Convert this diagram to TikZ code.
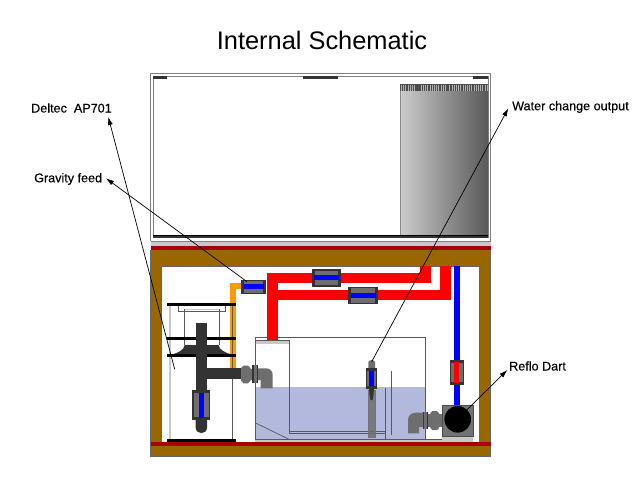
\documentclass[tikz,border=0pt]{standalone}
\usepackage{fontspec}
\setmainfont{Liberation Sans}
\usetikzlibrary{arrows.meta}
\definecolor{wood}{HTML}{996600}
\definecolor{darkred}{HTML}{A80000}
\definecolor{ltgray}{HTML}{C8C8C8}
\definecolor{midline}{HTML}{808080}
\definecolor{dkgray}{HTML}{333333}
\definecolor{vgray}{HTML}{6E6E6E}
\definecolor{water}{HTML}{B3B9DD}
\definecolor{pipeorange}{HTML}{FF9900}
\tikzset{
  x=1pt,y=-1pt,
  thinline/.style={draw=black!65,line width=.7pt},
  darkpart/.style={fill=dkgray,draw=none},
  blackbar/.style={fill=black,draw=none},
  vbody/.style={fill=vgray,draw=none},
  label/.style={font=\fontsize{12.6}{14}\selectfont\addfontfeatures{FakeBold=0.25},inner sep=0pt,text=black},
  callout/.style={draw=black,line width=.7pt,-{Latex[length=8pt,width=5pt]}},
}
% horizontal valve: x1,y1,x2,y2, colour
\newcommand{\hvalve}[5]{%
  \fill[darkpart] (#1,#2) rectangle (#3,#4);
  \fill[vbody] (#1+3,#2+1.5) rectangle (#3-3,#4-1.5);
  \fill[fill=#5] (#1+2.5,{(#2+#4)/2-2.5}) rectangle (#3-2.5,{(#2+#4)/2+2.5});}
% vertical valve
\newcommand{\vvalve}[5]{%
  \fill[darkpart] (#1,#2) rectangle (#3,#4);
  \fill[vbody] (#1+1.5,#2+3) rectangle (#3-1.5,#4-3);
  \fill[fill=#5] ({(#1+#3)/2-2.4},#2+2.5) rectangle ({(#1+#3)/2+2.4},#4-2.5);}
\begin{document}
\begin{tikzpicture}
\useasboundingbox (0,0) rectangle (640,480);
\fill[white] (0,0) rectangle (640,480);
% --- display tank
\draw[midline,line width=1pt] (150.5,241) -- (150.5,73.8) -- (490.5,73.8) -- (490.5,241);
\draw[midline,line width=1pt] (153,238) -- (153,76.5) -- (488,76.5) -- (488,238);
\fill[darkpart] (153,76) rectangle (167,79);
\fill[darkpart] (303,76) rectangle (338,79);
\fill[darkpart] (473,76) rectangle (488,79);
% overflow
\fill[left color=black!20,right color=black!65] (400,84) rectangle (488,235);
\draw[black!45,line width=.8pt] (400,84) -- (400,235);
\fill[black!70] (400,84) rectangle (488,91);
\foreach \cx in {401,403.2,...,487}{\fill[black!30] (\cx,84.5) rectangle ++(.7,6.5);}
\fill[black!70] (416,84) rectangle (420,91);
\fill[black!70] (446,84) rectangle (449,91);
\fill[darkpart] (153,235) rectangle (488,238);
\draw[line width=.5pt,black] (153,235) -- (488,235);
% --- stand
\fill[ltgray] (150.5,241) rectangle (490.5,246);
\draw[midline,line width=.6pt] (150.5,241) -- (490.5,241);
\fill[darkred] (150.5,246) rectangle (490.5,250);
\fill[wood] (150.5,250) rectangle (490.5,266);
\draw[black!60,line width=.5pt] (150.5,266) -- (490.5,266);
\fill[wood] (150.5,266) rectangle (161.7,442);
\fill[wood] (479,266) rectangle (490.5,442);
\draw[black!60,line width=.5pt] (161.7,266) -- (161.7,442) (479,266) -- (479,442) (150.5,250) -- (150.5,456.5) -- (490.5,456.5) -- (490.5,250);
\fill[darkred] (150.5,442) rectangle (490.5,445.5);
\fill[wood] (150.5,445.5) rectangle (490.5,456.5);
\draw[black!60,line width=.5pt] (150.5,445.5) -- (150.5,456.5) -- (490.5,456.5) -- (490.5,445.5);
% --- sump
\fill[water] (255,387) rectangle (425.7,439.7);
\fill[ltgray] (255.3,341) rectangle (289.3,343.7);
\draw[thinline] (255,439.7) -- (255,337.3) -- (425.7,337.3) -- (425.7,439.7);
\draw[thinline] (255,340) -- (289.7,340) -- (289.7,433.3) -- (385.7,433.3);
\draw[thinline] (289.7,431) -- (385.7,431);
\draw[thinline] (385.7,388.3) -- (385.7,439.7);
\draw[thinline] (391.7,371) -- (391.7,435);
\draw[thinline] (255,422.7) -- (289,439.3);
\fill[ltgray] (255,439.7) rectangle (473,442);
\draw[thinline] (255,439.7) -- (473,439.7);
% --- orange gravity pipe
\fill[pipeorange] (229.7,283.3) rectangle (241,289);
\fill[pipeorange] (229.7,283.3) rectangle (235.7,368.5);
% --- red pipes
\fill[red] (266.7,272.5) rectangle (277.5,340);
\fill[red] (266.7,272.5) rectangle (431,283);
\fill[red] (420,266) rectangle (431,283);
\fill[red] (266.7,289.7) rectangle (450.7,300);
\fill[red] (440,266) rectangle (450.7,300);
% --- blue pipe
\fill[blue] (454,266) rectangle (459.7,406);
% --- valves on pipes
\hvalve{241}{279.5}{266}{294}{blue}
\hvalve{311.7}{269}{341}{286.7}{blue}
\hvalve{348}{286.7}{378}{304}{blue}
\vvalve{449.7}{359.7}{464}{385.3}{red}
% --- skimmer
\fill[ltgray] (169,306) rectangle (171,440);
\draw[thinline] (232.3,306) -- (232.3,440);
\draw[thinline] (178.3,306) -- (178.3,311.7) -- (225,311.7) -- (225,306);
\draw[ltgray,line width=.8pt] (184.7,309) -- (219,309);
\draw[thinline] (184.7,309) -- (184.7,345) (219,309) -- (219,345);
\fill[darkpart] (170,355) .. controls (178,353) and (184,350) .. (184.7,345) -- (218.5,345) .. controls (219,350) and (226,353) .. (233,355) -- cycle;
\fill[blackbar] (167,303.2) rectangle (235.7,306.3);
\fill[blackbar] (167,336.9) rectangle (235.7,340.1);
\fill[blackbar] (167,354.2) rectangle (235.7,357.2);
\fill[blackbar] (167,439.2) rectangle (235.7,442);
\fill[darkpart] (195.7,323) rectangle (207,395);
\fill[darkpart] (195.7,415) -- (207,415) -- (207,427.5) .. controls (207,435) and (195.7,435) .. (195.7,427.5) -- cycle;
\vvalve{192.3}{390}{210}{420}{blue}
% --- left fitting
\fill[darkpart] (206.7,368.3) rectangle (241.7,379.3);
\fill[vgray] (241,368) -- (243.5,365.7) -- (248,365.7) -- (250.5,368) -- (250.5,380.5) -- (248,383.3) -- (243.5,383.3) -- (241,380.5) -- cycle;
\fill[vgray] (250,369) rectangle (258,380);
\fill[darkpart] (252,365.3) rectangle (253.7,382.7);
\fill[vgray] (253.7,365.3) rectangle (256.6,382.7);
\fill[darkpart] (256.6,365.3) rectangle (258.3,382.7);
\fill[vgray] (258,368.3) -- (266,368.3) .. controls (270,368.3) and (272.7,371) .. (272.7,375) -- (272.7,388.3) -- (260.7,388.3) -- (260.7,380) -- (258,380) -- cycle;
% --- pump
\fill[ltgray] (442.3,436.7) rectangle (473.3,439.7);
\fill[black!55] (442.3,405) rectangle (473.3,436.7);
\draw[black!70,line width=.5pt] (442.3,405) rectangle (473.3,436.7);
\fill[black] (457.7,419.3) circle[radius=13.3];
% --- right fitting
\fill[vgray] (438,414) rectangle (442.3,427);
\fill[vgray] (430.3,413) -- (432.3,411) -- (437,411) -- (439,413) -- (439,428) -- (437,430) -- (432.3,430) -- (430.3,428) -- cycle;
\fill[vgray] (428,414) rectangle (430.5,427);
\fill[darkpart] (422.7,411.7) rectangle (424.4,429);
\fill[vgray] (424.4,411.7) rectangle (426.6,429);
\fill[darkpart] (426.6,411.7) rectangle (428.3,429);
\fill[vgray] (423,412.5) -- (417,412.5) .. controls (411,412.5) and (408,416) .. (408,420) -- (408,433.3) -- (419,433.3) -- (419,427) -- (423,427) -- cycle;
% --- probe
\fill[vgray,opacity=.85] (368.3,390) rectangle (375,436.7);
\draw[black!55,line width=.4pt] (368.3,390) rectangle (375,436.7);
\fill[darkpart] (369,388) -- (374,388) -- (373.5,395) -- (372.5,400) -- (370.5,400) -- (369.5,395) -- cycle;
\fill[vgray] (368.3,368) -- (368.3,362) .. controls (369,359.5) and (374,359.5) .. (375,362) -- (375,368) -- cycle;
\vvalve{365.7}{368.3}{377.3}{388.7}{blue}
% --- labels
\node[font=\fontsize{25.4}{28}\selectfont,inner sep=0pt] (title) at (322,40) {Internal Schematic};
\node[label,anchor=west] (deltec) at (31,108) {Deltec\ \ AP701};
\node[label,anchor=west] (gravity) at (34,179) {Gravity feed};
\node[label,anchor=west] (waterout) at (512,107) {Water change output};
\node[label,anchor=west] (reflo) at (509,366) {Reflo Dart};
% --- callouts
\coordinate (deltecEnd) at (174.7,369.3);
\coordinate (deltecTip) at (108.3,117);
\coordinate (gravityEnd) at (247,281.7);
\coordinate (gravityTip) at (106,178.3);
\coordinate (waterEnd) at (371.7,361.7);
\coordinate (waterTip) at (508.3,108.3);
\coordinate (refloEnd) at (466.7,410);
\coordinate (refloTip) at (507.3,370);
\draw[callout] (deltecEnd) -- (deltecTip);
\draw[callout] (gravityEnd) -- (gravityTip);
\draw[callout] (waterEnd) -- (waterTip);
\draw[callout] (refloEnd) -- (refloTip);
\end{tikzpicture}
\end{document}
